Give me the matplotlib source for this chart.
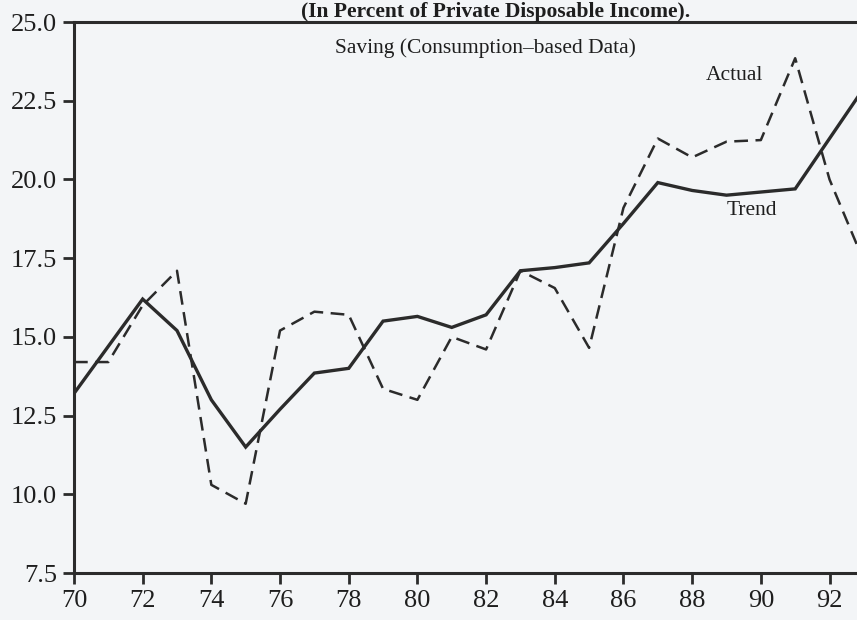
import numpy as np
import matplotlib
matplotlib.use('Agg')
import matplotlib.pyplot as plt

plt.rcParams['font.family'] = ['Liberation Serif', 'DejaVu Serif']

# years 1970-1993 (two-digit labels as in the original)
years = list(range(70, 94))

# saving rate, % of private disposable income
trend = [13.2, 14.7, 16.2, 15.2, 13.0, 11.5, 12.7, 13.85, 14.0, 15.5,
         15.65, 15.3, 15.7, 17.1, 17.2, 17.35, 18.6, 19.9, 19.65, 19.5,
         19.6, 19.7, 21.3, 22.9]
actual = [14.2, 14.2, 16.0, 17.1, 10.3, 9.7, 15.2, 15.8, 15.7, 13.35,
          13.0, 15.0, 14.6, 17.1, 16.55, 14.65, 19.1, 21.3, 20.7, 21.2,
          21.25, 23.85, 20.0, 17.4]

xticks = [70, 72, 74, 76, 78, 80, 82, 84, 86, 88, 90, 92]
yticks = [7.5, 10.0, 12.5, 15.0, 17.5, 20.0, 22.5, 25.0]

ink = '#2b2b2b'
txt = '#1e1e1e'
paper = '#f3f5f7'

fig = plt.figure(figsize=(8.57, 6.2), dpi=100)
fig.patch.set_facecolor(paper)
ax = fig.add_axes([0.0863, 0.0758, 0.9137, 0.8887])
ax.set_facecolor(paper)

ax.plot(years, trend, color=ink, lw=2.4, solid_joinstyle='miter', zorder=3)
ax.plot(years, actual, color=ink, lw=1.8, ls=(0, (5.5, 3)), zorder=3)

ax.set_xlim(70, 92.8)
ax.set_ylim(7.5, 25.0)
ax.set_xticks(xticks)
ax.set_yticks(yticks)
ax.set_yticklabels([f'{v:.1f}' for v in yticks])

for s in ['left', 'bottom', 'top']:
    ax.spines[s].set_linewidth(2.2)
    ax.spines[s].set_color(ink)
ax.spines['right'].set_visible(False)

ax.tick_params(axis='both', direction='out', length=8, width=2,
               color=ink, labelcolor=txt, labelsize=19, pad=4)

ax.text(0.526, 0.953, 'Saving (Consumption\u2013based Data)', transform=ax.transAxes,
        ha='center', va='center', fontsize=15.5, color=txt)
ax.text(88.4, 23.3, 'Actual', ha='left', va='center', fontsize=15.5, color=txt)
ax.text(89.0, 19.0, 'Trend', ha='left', va='center', fontsize=15.5, color=txt)

# title, sitting right at the top edge of the scan
fig.text(0.578, 1 - 17 / 620, '(In Percent of Private Disposable Income).',
         ha='center', va='baseline', fontsize=15.5, fontweight='bold', color=txt)

fig.savefig('out.png', dpi=100, facecolor=paper)
